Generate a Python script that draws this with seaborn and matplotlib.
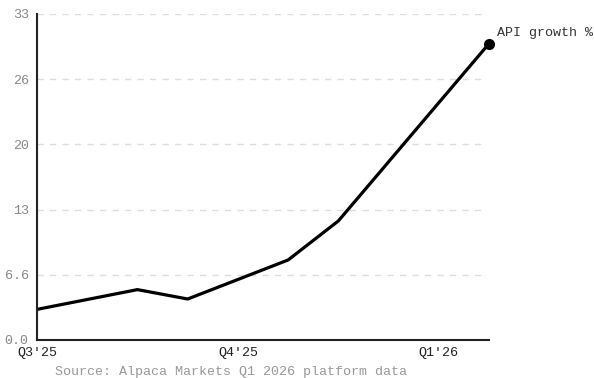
import matplotlib
matplotlib.use("Agg")
import matplotlib.pyplot as plt
import seaborn as sns
import pandas as pd

x_pos = [0, 2, 3, 5, 6, 9]
growth = [3.1, 5.1, 4.15, 8.1, 12.05, 30.0]
y_ticks = [0.0, 6.6, 13.2, 19.8, 26.4, 33.0]
y_tick_labels = ["0.0", "6.6", "13", "20", "26", "33"]
x_ticks = [0, 4, 8]
x_tick_labels = ["Q3'25", "Q4'25", "Q1'26"]
series_label = "API growth %"
source = "Source: Alpaca Markets Q1 2026 platform data"

sns.set_theme(style="white")
plt.rcParams['font.family'] = ['Liberation Mono', 'DejaVu Sans Mono']

df = pd.DataFrame({"x": x_pos, "y": growth})
fig = plt.figure(figsize=(5.94, 3.78), dpi=100)
ax = fig.add_axes([37/594, 1-340/378, (489-37)/594, (340-14)/378])
sns.lineplot(data=df, x="x", y="y", ax=ax, color="black", lw=2.3)
ax.plot([x_pos[-1]], [growth[-1]], "o", color="black", ms=7, clip_on=False)
ax.text(x_pos[-1] + 0.15, growth[-1] + 0.5, series_label, fontsize=9.6, color="#333333", va="bottom", ha="left")

ax.set_xlim(0, 9)
ax.set_ylim(0, 33)
ax.set_yticks(y_ticks)
ax.set_yticklabels(y_tick_labels, fontsize=9.6, color="#888888")
ax.set_xticks(x_ticks)
ax.set_xticklabels(x_tick_labels, fontsize=9.6, color="#222222")
ax.tick_params(axis="y", length=0, pad=6)
ax.tick_params(axis="x", length=0, pad=5)
ax.set_xlabel("")
ax.set_ylabel("")
for y in y_ticks[1:]:
    ax.plot([0, 8.9], [y, y], ls=(0, (4.5, 4.5)), color="#dddddd", lw=1, zorder=0)
for s in ["top", "right"]:
    ax.spines[s].set_visible(False)
for s in ["left", "bottom"]:
    ax.spines[s].set_color("#222222")
    ax.spines[s].set_linewidth(1.5)
fig.text(55/594, 1-372/378, source, fontsize=9.6, color="#999999", va="center", ha="left")
fig.savefig("out.png", dpi=100)
